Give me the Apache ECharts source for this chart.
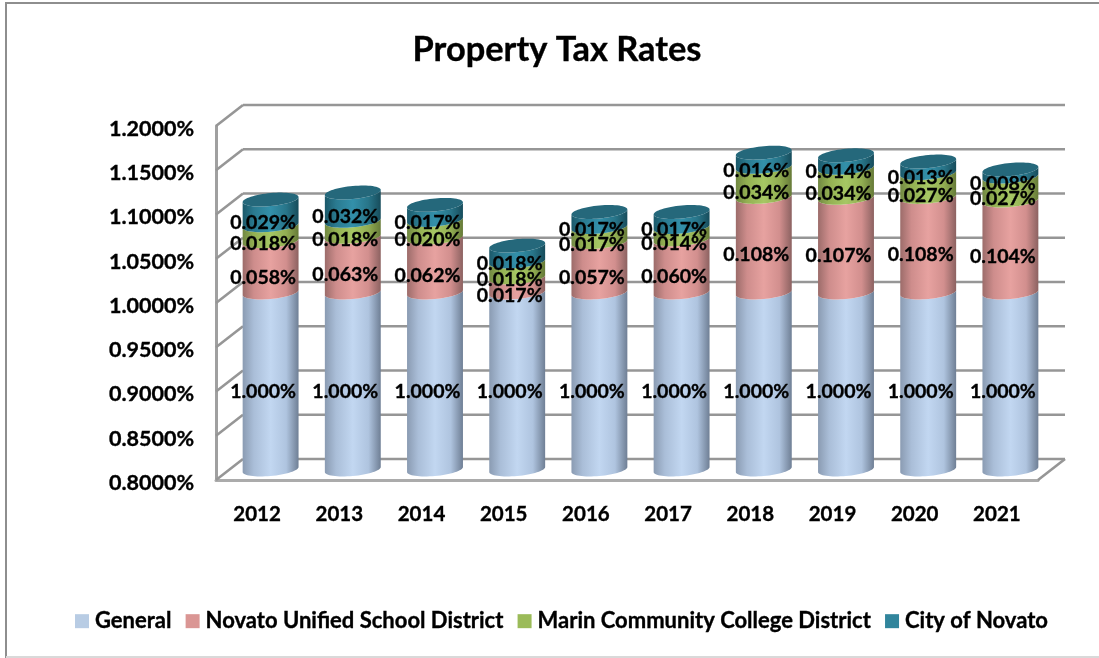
<!DOCTYPE html>
<html>
<head>
<meta charset="utf-8">
<style>html,body{margin:0;padding:0;background:#fff}#c{width:1099px;height:658px}</style>
<script src="https://cdn.jsdelivr.net/npm/echarts@6/dist/echarts.min.js"></script>
</head>
<body>
<div id="c"></div>
<script>
var years = ['2012','2013','2014','2015','2016','2017','2018','2019','2020','2021'];
var yTicks = [0.80,0.85,0.90,0.95,1.00,1.05,1.10,1.15,1.20];
var general = [1.000,1.000,1.000,1.000,1.000,1.000,1.000,1.000,1.000,1.000];
var novato  = [0.058,0.063,0.062,0.017,0.057,0.060,0.108,0.107,0.108,0.104];
var marin   = [0.018,0.018,0.020,0.018,0.017,0.014,0.034,0.034,0.027,0.027];
var city    = [0.029,0.032,0.017,0.018,0.017,0.017,0.016,0.014,0.013,0.008];
var seriesNames = ['General','Novato Unified School District','Marin Community College District','City of Novato'];
var seriesValues = [general,novato,marin,city];
var legendColors = ['#B8CCE4','#DA9694','#9BBB59','#31859C'];
var bodyStops = [
  ['#8A9BB2','#AABED8','#C2D7F1','#AFC4DF','#6F7F95'],
  ['#9C6C6A','#CE8D8C','#E7A2A0','#D28F8E','#8C6261'],
  ['#718842','#93B052','#A6C764','#92AE52','#667A38'],
  ['#1B5869','#2A7A90','#3390AA','#287589','#174C5B']
];
var capColor = '#25687B';
var depthX = 27, depthY = -21, FONT = 'Lato', AXIS_MIN = 0.8;
var HEAVY = {textBorderColor:'#000',textBorderWidth:0.35};

function bodyFill(c){
  return {type:'linear',x:0,y:0,x2:1,y2:0,colorStops:[
    {offset:0,color:c[0]},{offset:0.2,color:c[1]},{offset:0.5,color:c[2]},{offset:0.78,color:c[3]},{offset:1,color:c[4]}]};
}
function ellPt(cx,cy,rx,ry,t){
  var k=0.09;
  return [cx+rx*Math.cos(t), cy+ry*Math.sin(t)-k*rx*Math.cos(t)];
}
function cylinderSeries(idx){
  var data = years.map(function(y,i){
    var base = 0;
    for(var s=0;s<idx;s++) base += seriesValues[s][i];
    return [i, base, base+seriesValues[idx][i]];
  });
  return {
    type:'custom', name:seriesNames[idx], coordinateSystem:'cartesian2d', clip:false, z:3+idx,
    itemStyle:{color:legendColors[idx]}, silent:true,
    encode:{x:0,y:2}, data:data,
    renderItem:function(params,api){
      var i=api.value(0), lo=Math.max(api.value(1),AXIS_MIN), hi=api.value(2);
      var p0=api.coord([i,lo]), p1=api.coord([i,hi]);
      var cx=p0[0]+depthX/2, yb=p0[1]+depthY/2, yt=p1[1]+depthY/2;
      var rx=api.size([1,0])[0]*0.34, ry=6.5, n=32, pts=[], j;
      for(j=0;j<=n;j++) pts.push(ellPt(cx,yt,rx,ry,Math.PI*(1-j/n)));
      for(j=0;j<=n;j++) pts.push(ellPt(cx,yb,rx,ry,Math.PI*(j/n)));
      var kids=[{type:'polygon',shape:{points:pts},style:{fill:bodyFill(bodyStops[idx])}}];
      if(idx===seriesValues.length-1){
        var cap=[];
        for(j=0;j<2*n;j++) cap.push(ellPt(cx,yt,rx,ry,Math.PI*j/n));
        kids.push({type:'polygon',shape:{points:cap},style:{fill:capColor}});
      }
      return {type:'group',children:kids};
    }
  };
}
var labelData=[];
years.forEach(function(y,i){
  var base=0;
  seriesValues.forEach(function(vals){
    var lo=Math.max(base,AXIS_MIN), hi=base+vals[i];
    labelData.push([i,(lo+hi)/2,vals[i]]);
    base=hi;
  });
});
var labelSeries={
  type:'custom',coordinateSystem:'cartesian2d',clip:false,z:20,silent:true,
  encode:{x:0,y:1},data:labelData,
  renderItem:function(params,api){
    var p=api.coord([api.value(0),api.value(1)]);
    return {type:'text',style:{x:p[0]+6,y:p[1],text:api.value(2).toFixed(3)+'%',
      fill:'#000',stroke:'#000',lineWidth:0.35,font:'bold 19.5px '+FONT,textAlign:'center',textVerticalAlign:'middle'}};
  }
};
var wallSeries={
  type:'custom',coordinateSystem:'cartesian2d',clip:false,z:1,silent:true,
  encode:{y:1},data:yTicks.map(function(v){return [0,v];}),
  renderItem:function(params,api){
    var y=api.coord([0,api.value(1)])[1], g=params.coordSys, x0=g.x, x1=g.x+g.width;
    var ls={stroke:'#969696',lineWidth:2.6,fill:null};
    var kids=[
      {type:'line',shape:{x1:x0,y1:y,x2:x0+depthX,y2:y+depthY},style:ls},
      {type:'line',shape:{x1:x0+depthX,y1:y+depthY,x2:x1+depthX,y2:y+depthY},style:ls}
    ];
    if(params.dataIndex===0) kids.push({type:'line',shape:{x1:x1,y1:y,x2:x1+depthX,y2:y+depthY},style:ls});
    return {type:'group',children:kids};
  }
};
var chart=echarts.init(document.getElementById('c'),null,{renderer:'canvas'});
chart.setOption({
  animation:false,
  backgroundColor:'#fff',
  title:{text:'Property Tax Rates',left:552,top:28,textAlign:'center',
    textStyle:Object.assign({fontFamily:FONT,fontWeight:'bold',fontSize:34.4,color:'#000'},HEAVY)},
  legend:{data:seriesNames,left:70,top:605,itemWidth:14,itemHeight:14,itemGap:14,
    icon:'rect',selectedMode:false,
    textStyle:Object.assign({fontFamily:FONT,fontWeight:'bold',fontSize:22,color:'#000',padding:[0,0,0,1]},HEAVY)},
  grid:{left:216,right:61,top:126,height:354},
  xAxis:{type:'category',data:years,
    axisLine:{lineStyle:{color:'#ABABAB',width:3}},axisTick:{show:false},
    axisLabel:Object.assign({margin:24,color:'#000',fontFamily:FONT,fontWeight:'bold',fontSize:20.5},HEAVY)},
  yAxis:{type:'value',min:0.8,max:1.2,interval:0.05,
    axisLine:{show:true,lineStyle:{color:'#A0A0A0',width:3}},axisTick:{show:false},splitLine:{show:false},
    axisLabel:Object.assign({margin:22,color:'#000',fontFamily:FONT,fontWeight:'bold',fontSize:21.5,
      verticalAlign:'top',lineHeight:6,
      formatter:function(v){return v.toFixed(4)+'%';}},HEAVY)},
  graphic:[
    {type:'line',shape:{x1:5,y1:3,x2:1099,y2:3},style:{stroke:'#8E8E8E',lineWidth:2}},
    {type:'line',shape:{x1:6,y1:3,x2:6,y2:658},style:{stroke:'#8E8E8E',lineWidth:2}},
    {type:'line',shape:{x1:6,y1:657,x2:1099,y2:657},style:{stroke:'#D9D9D9',lineWidth:2}}
  ],
  series:[wallSeries].concat(seriesNames.map(function(n,i){return cylinderSeries(i);})).concat([labelSeries])
});
</script>
</body>
</html>
